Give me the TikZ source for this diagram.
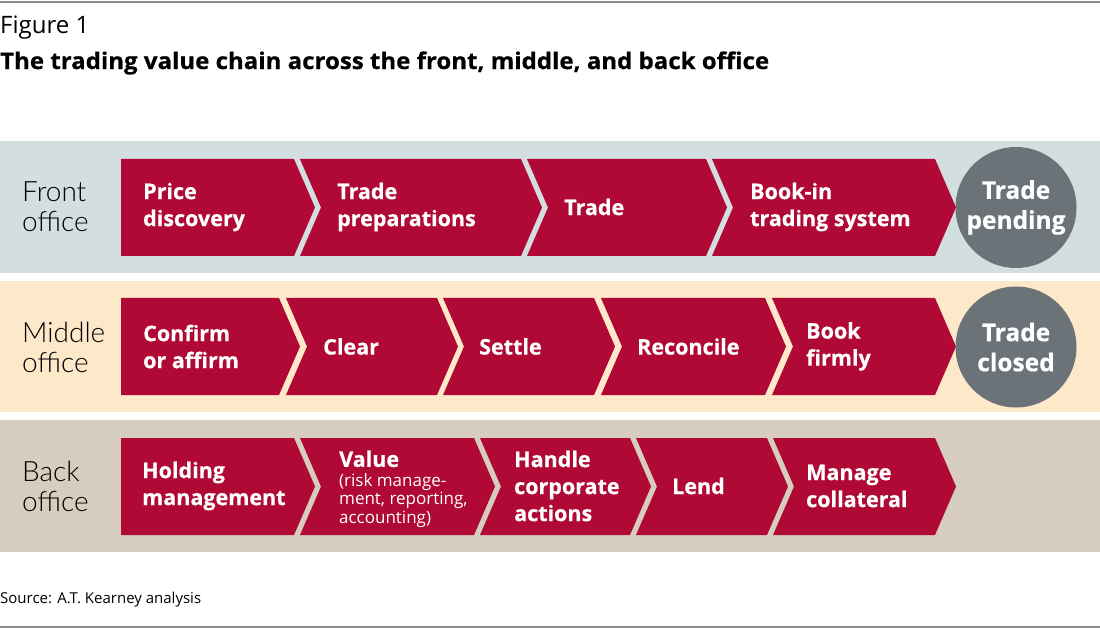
\documentclass[tikz,border=0pt]{standalone}
\usepackage{fontspec}
\setmainfont{Open Sans}
\newfontfamily\osans{Open Sans}
\newfontfamily\heavy{Open Sans}[BoldFeatures={FakeBold=0.5}]
\newfontfamily\lightf{Lato Light}
\usetikzlibrary{calc}
\definecolor{crim}{HTML}{B00935}
\definecolor{bandF}{HTML}{D3DEE0}
\definecolor{bandM}{HTML}{FDE8CA}
\definecolor{bandB}{HTML}{D6CDBF}
\definecolor{circg}{HTML}{6B7379}
\definecolor{rulec}{HTML}{8C8C8C}
\newcommand\chv[5]{%
  \pgfmathsetmacro\my{(#4+#5)/2}%
  \pgfmathsetmacro\tx{#3+21}%
  \pgfmathsetmacro\nx{#2+21*#1}%
  \fill[crim] (#2,#4) -- (#3,#4) -- (\tx,\my) -- (#3,#5) -- (#2,#5) -- (\nx,\my) -- cycle;}
\tikzset{
  steptxt/.style={anchor=west, align=left, text=white, inner sep=0pt,
    font=\heavy\bfseries\fontsize{21.5}{27}\selectfont},
  rowlbl/.style={anchor=west, align=left, inner sep=0pt,
    font=\lightf\fontsize{28}{30}\selectfont},
  endcirc/.style={circle, fill=circg, minimum size=121pt, inner sep=0pt, align=center,
    text=white, font=\heavy\bfseries\fontsize{24.5}{30}\selectfont},
}
\begin{document}
\begin{tikzpicture}[x=1pt,y=-1pt]
\fill[white] (0,0) rectangle (1100,628);
\useasboundingbox (0,0) rectangle (1100,628);
\draw[rulec, line width=1.5pt] (0,2) -- (1100,2);
\draw[rulec, line width=1.5pt] (0,627) -- (1100,627);
\node[anchor=west, inner sep=0pt, font=\osans\fontsize{24}{28}\selectfont] (fig) at (0,28) {Figure 1};
\node[anchor=west, inner sep=0pt, font=\heavy\bfseries\fontsize{23}{28}\selectfont] (title) at (0,63) {\scalebox{1.045}[1]{The trading value chain across the front, middle, and back office}};
\node[anchor=west, inner sep=0pt, font=\osans\fontsize{15}{16}\selectfont] (src) at (0,600) {Source: A.T. Kearney analysis};
% bands
\fill[bandF] (0,141) rectangle (1100,273);
\fill[bandM] (0,281) rectangle (1100,412);
\fill[bandB] (0,420) rectangle (1100,552);
\node[rowlbl] (lf) at (22,207) {Front\\office};
\node[rowlbl] (lm) at (22,347) {Middle\\office};
\node[rowlbl] (lb) at (22,486) {Back\\office};
% front
\chv{0}{121}{294}{159}{256}
\chv{1}{300}{521}{159}{256}
\chv{1}{527}{706}{159}{256}
\chv{1}{712}{935}{159}{256}
\node[steptxt] (f1) at (143,207) {Price\\discovery};
\node[steptxt] (f2) at (337,207) {Trade\\preparations};
\node[steptxt] (f3) at (564,207) {Trade};
\node[steptxt] (f4) at (750,207) {Book-in\\trading system};
\node[endcirc] (tp) at (1016,207.5) {Trade\\pending};
% middle
\chv{0}{121}{279}{298}{395}
\chv{1}{286}{437}{298}{395}
\chv{1}{443}{594}{298}{395}
\chv{1}{601}{765}{298}{395}
\chv{1}{772}{935}{298}{395}
\node[steptxt] (m1) at (143,346.5) {Confirm\\or affirm};
\node[steptxt] (m2) at (323,346.5) {Clear};
\node[steptxt] (m3) at (479,346.5) {Settle};
\node[steptxt] (m4) at (637,346.5) {Reconcile};
\node[steptxt] (m5) at (806,346.5) {Book\\firmly};
\node[endcirc] (tc) at (1016,347) {Trade\\closed};
% back
\chv{0}{121}{294}{438}{535}
\chv{1}{300}{474}{438}{535}
\chv{1}{480}{630}{438}{535}
\chv{1}{636}{767}{438}{535}
\chv{1}{773}{935}{438}{535}
\node[anchor=west, align=left, text=white, inner sep=0pt, font=\osans\fontsize{17}{18.5}\selectfont] (b2) at (339,489)
  {\heavy\bfseries\fontsize{21.5}{22}\selectfont Value\\[1pt]
   \osans\fontsize{17}{18.5}\selectfont\mdseries (risk manage-\\ment, reporting,\\accounting)};
\node[steptxt] (b1) at (142,486) {Holding\\management};
\node[steptxt] (b3) at (514,486) {Handle\\corporate\\actions};
\node[steptxt] (b4) at (672,486) {Lend};
\node[steptxt] (b5) at (806,486) {Manage\\collateral};
\end{tikzpicture}
\end{document}
